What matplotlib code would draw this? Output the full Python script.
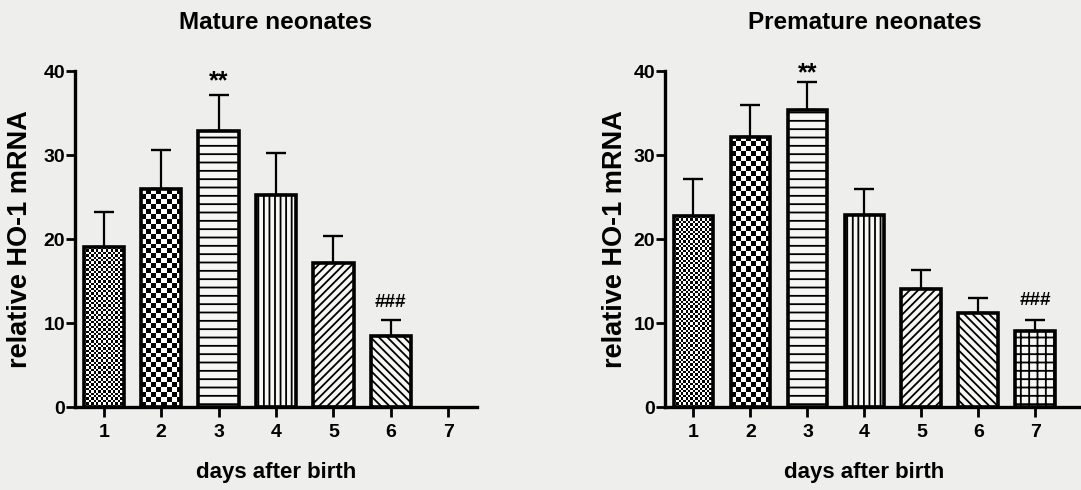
import numpy as np
import matplotlib
matplotlib.use("Agg")
import matplotlib.pyplot as plt
from matplotlib.transforms import blended_transform_factory

# ---------------- data ----------------
days_all = [1, 2, 3, 4, 5, 6, 7]
mature_days = [1, 2, 3, 4, 5, 6]
mature_mean = [19.0, 25.9, 32.9, 25.2, 17.1, 8.4]
mature_sem = [4.2, 4.7, 4.2, 5.0, 3.3, 1.9]
premature_days = [1, 2, 3, 4, 5, 6, 7]
premature_mean = [22.7, 32.2, 35.3, 22.8, 14.1, 11.2, 9.1]
premature_sem = [4.5, 3.8, 3.4, 3.1, 2.2, 1.8, 1.3]
titles = ["Mature neonates", "Premature neonates"]
ylabel = "relative HO-1 mRNA"
xlabel = "days after birth"
yticks = [0, 10, 20, 30, 40]
# significance marks: panel, day, text, baseline height (data units)
mark_panel = [0, 0, 1, 1]
mark_day = [3, 6, 3, 7]
mark_text = ["**", "###", "**", "###"]
mark_y = [37.9, 11.9, 38.9, 12.1]

# pattern per day: hatch string or checker cell size (px)
patterns = {1: ("checker", 2.4), 2: ("checker", 5.0), 3: ("hatch", "--"),
            4: ("hatch", "|||"), 5: ("hatch", "////"), 6: ("hatch", "\\\\\\\\"),
            7: ("hatch", "++")}

BG = "#eeeeec"
FONT = "Liberation Sans"
plt.rcParams["font.family"] = [FONT, "DejaVu Sans"]
plt.rcParams["font.weight"] = "bold"
plt.rcParams["hatch.linewidth"] = 1.3
plt.rcParams["hatch.color"] = "black"

W, H = 1081, 490
fig = plt.figure(figsize=(W / 100, H / 100), dpi=100, facecolor=BG)

ax_specs = [
    dict(left=75, right=477, xlim=(0.5, 7.5), ylab_x=-0.104),
    dict(left=665, right=1081, xlim=(0.5, 7.8), ylab_x=-0.089),
]
bottom_px, top_px = 407, 71

datasets = [(mature_days, mature_mean, mature_sem),
            (premature_days, premature_mean, premature_sem)]

for i, spec in enumerate(ax_specs):
    ax = fig.add_axes([spec["left"] / W, 1 - bottom_px / H,
                       (spec["right"] - spec["left"]) / W,
                       (bottom_px - top_px) / H])
    ax.set_facecolor(BG)
    ax.set_xlim(*spec["xlim"])
    ax.set_ylim(0, 40)
    days, mean, sem = datasets[i]

    ax.errorbar(days, mean, yerr=[np.zeros(len(sem)), sem], fmt="none",
                ecolor="black", elinewidth=1.6, capsize=7.2, capthick=1.7,
                zorder=1)

    p0 = ax.transData.transform((0, 0))
    p1 = ax.transData.transform((1, 1))
    pxx, pxy = p1[0] - p0[0], p1[1] - p0[1]

    width = 0.7
    for d, m in zip(days, mean):
        kind, val = patterns[d]
        if kind == "hatch":
            ax.bar(d, m, width=width, facecolor="#f7f7f5", edgecolor="black",
                   hatch=val, linewidth=0, zorder=2)
        else:
            bars = ax.bar(d, m, width=width, facecolor="white",
                          edgecolor="none", linewidth=0, zorder=2)
            nx = max(1, int(round(width * pxx / val)))
            ny = max(1, int(round(m * pxy / val)))
            yy, xx = np.mgrid[0:ny, 0:nx]
            img = ((xx + yy) % 2).astype(float)
            im = ax.imshow(img, cmap="gray", vmin=0, vmax=1,
                           extent=(d - width / 2, d + width / 2, 0, m),
                           origin="lower", interpolation="nearest",
                           aspect="auto", zorder=2.5)
            im.set_clip_path(bars[0])
        ax.bar(d, m, width=width, fill=False, edgecolor="black",
               linewidth=2.6, zorder=3)

    for pi, d, txt, y in zip(mark_panel, mark_day, mark_text, mark_y):
        if pi != i:
            continue
        ax.text(d, y, txt, ha="center", va="baseline",
                fontsize=18 if txt == "**" else 13.5, fontweight="bold",
                clip_on=False)

    for s in ("top", "right"):
        ax.spines[s].set_visible(False)
    for s in ("left", "bottom"):
        ax.spines[s].set_linewidth(2.4)
    ax.set_xticks(days_all)
    ax.set_xticklabels([str(d) for d in days_all])
    ax.set_yticks(yticks)
    ax.set_yticklabels([str(v) for v in yticks])
    ax.tick_params(axis="x", direction="out", length=7, width=2,
                   pad=5, labelsize=14)
    ax.tick_params(axis="y", direction="out", length=6.5, width=2,
                   pad=0.5, labelsize=14)
    for lab in ax.get_xticklabels() + ax.get_yticklabels():
        lab.set_fontweight("bold")

    ax.set_ylabel(ylabel, fontsize=19.5, fontweight="bold")
    ax.yaxis.set_label_coords(spec["ylab_x"], 0.5)

    trans = blended_transform_factory(ax.transData, ax.transAxes)
    ax.text(4, -0.195, xlabel, transform=trans, ha="center", va="center",
            fontsize=16, fontweight="bold")
    ax.text(4, 1.143, titles[i], transform=trans, ha="center", va="center",
            fontsize=17.5, fontweight="bold")

fig.savefig("out.png", dpi=100, facecolor=BG)
